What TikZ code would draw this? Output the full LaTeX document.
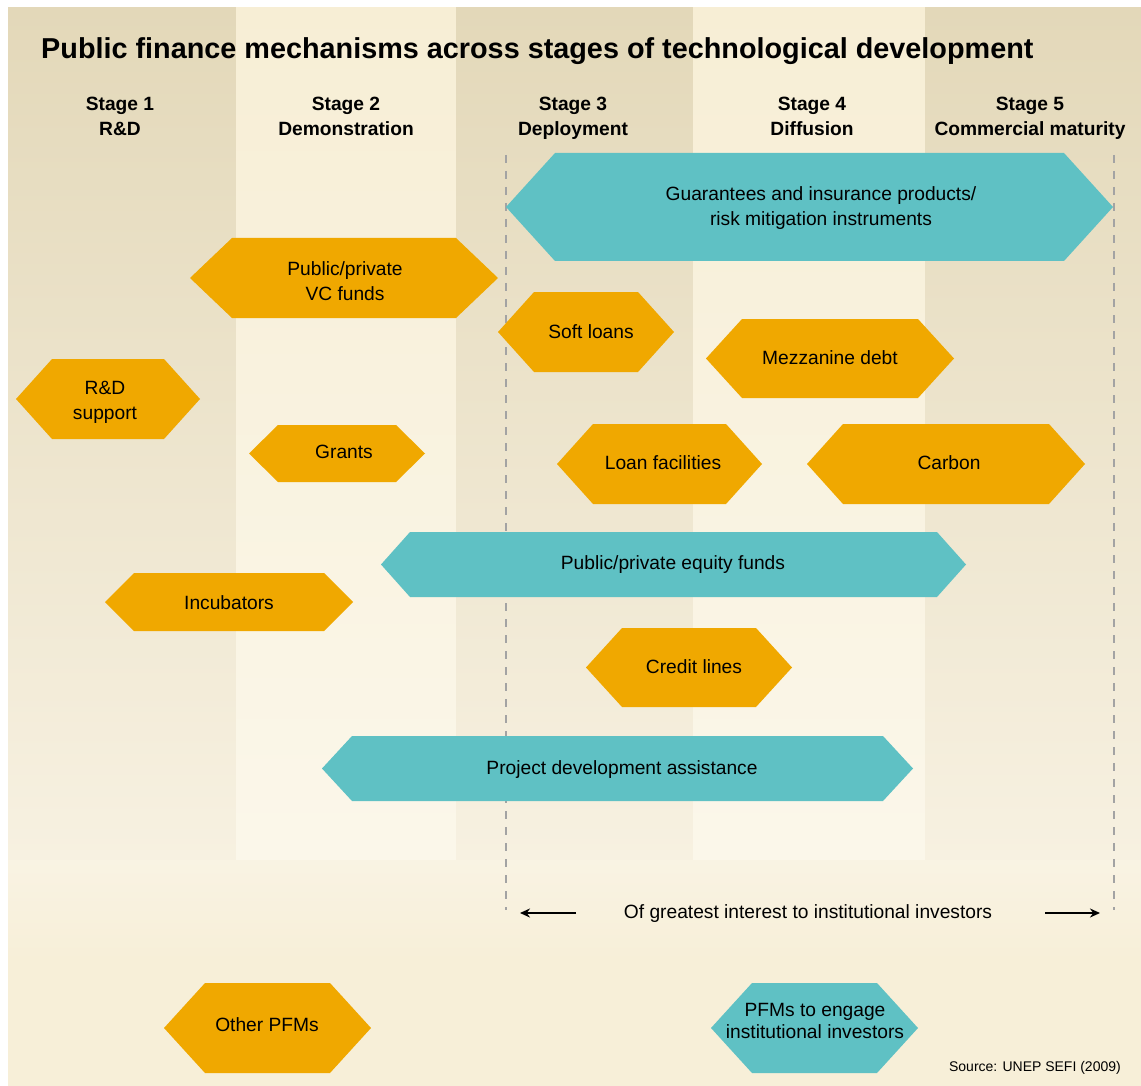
\documentclass[tikz,border=0pt]{standalone}
\usepackage{fontspec}
\setmainfont{Liberation Sans}
\usetikzlibrary{arrows.meta}
\definecolor{orng}{HTML}{F0A800}
\definecolor{teal}{HTML}{5FC1C4}
\definecolor{darktop}{HTML}{E3D8B9}
\definecolor{darkbot}{HTML}{F7F1E1}
\definecolor{lighttop}{HTML}{F7EED5}
\definecolor{lightbot}{HTML}{FBF7EA}
\definecolor{basecream}{HTML}{F7EFD8}
\definecolor{basetop}{HTML}{F9F3E3}
\definecolor{dashgray}{HTML}{A3A3A3}
\newcommand{\hexa}[9]{%
  \fill[#2] (#3,{(#6+#7)/2}) -- ({#3+#4},#6) -- ({#5-#4},#6) -- (#5,{(#6+#7)/2}) -- ({#5-#4},#7) -- ({#3+#4},#7) -- cycle;
  \node[lbl] (#1) at (#8) {#9};
}
\begin{document}
\begin{tikzpicture}[x=1pt,y=-1pt,
  lbl/.style={align=center,font=\fontsize{19.2}{25}\selectfont,inner sep=0pt},
  stagelbl/.style={align=center,anchor=base,font=\fontsize{19.2}{25}\selectfont\bfseries,inner sep=0pt},
  guide/.style={dashgray,line width=2pt,dash pattern=on 8pt off 8pt},
  arr/.style={line width=2pt,-{Stealth[length=10pt,width=9pt]}}]
\useasboundingbox (0,0) rectangle (1141,1086);
\fill[white] (0,0) rectangle (1141,1086);
\fill[basecream] (8,8) rectangle (1141,1086);
% columns
\shade[top color=darktop,bottom color=darkbot] (8,8) rectangle (236,860);
\shade[top color=lighttop,bottom color=lightbot] (236,8) rectangle (456,860);
\shade[top color=darktop,bottom color=darkbot] (456,8) rectangle (693,860);
\shade[top color=lighttop,bottom color=lightbot] (693,8) rectangle (925,860);
\shade[top color=darktop,bottom color=darkbot] (925,8) rectangle (1141,860);
\shade[top color=basetop,bottom color=basecream] (8,860) rectangle (1141,960);
% title
\node[anchor=west,inner sep=0pt,font=\fontsize{28.8}{32}\selectfont\bfseries] (title) at (41,51) {Public finance mechanisms across stages of technological development};
% stages
\node[stagelbl] (s1) at (120,136) {Stage 1\\R\&D};
\node[stagelbl] (s2) at (346,136) {Stage 2\\Demonstration};
\node[stagelbl] (s3) at (573,136) {Stage 3\\Deployment};
\node[stagelbl] (s4) at (812,136) {Stage 4\\Diffusion};
\node[stagelbl] (s5) at (1030,136) {Stage 5\\Commercial maturity};
% dashed guides
\coordinate (gl1) at (506,155);
\coordinate (gl2) at (506,910);
\coordinate (gr1) at (1114,155);
\coordinate (gr2) at (1114,910);
\draw[guide] (gl1) -- (gl2);
\draw[guide] (gr1) -- (gr2);
% hexagons
\hexa{guar}{teal}{506}{49}{1113}{153}{261}{821,208}{Guarantees and insurance products/\\risk mitigation instruments}
\hexa{vc}{orng}{190}{42}{498}{238}{318}{345,281}{Public/private\\VC funds}
\hexa{soft}{orng}{498}{36}{674}{292}{372}{591,332}{Soft loans}
\hexa{mezz}{orng}{706}{36}{954}{319}{398}{830,358}{Mezzanine debt}
\hexa{rd}{orng}{16}{36}{200}{359}{439}{105,402}{R\&D\\support}
\hexa{grants}{orng}{249}{29}{425}{425}{482}{344,452}{Grants}
\hexa{loanf}{orng}{557}{36}{762}{424}{504}{663,463}{Loan facilities}
\hexa{carbon}{orng}{807}{36}{1085}{424}{504}{949,463}{Carbon}
\hexa{equity}{teal}{381}{29}{966}{532}{597}{673,565}{Public/private equity funds}
\hexa{incub}{orng}{105}{29}{353}{573}{631}{229,603}{Incubators}
\hexa{credit}{orng}{586}{36}{792}{628}{707}{694,667}{Credit lines}
\hexa{projdev}{teal}{322}{30}{913}{736}{801}{622,770}{Project development assistance}
\hexa{other}{orng}{164}{41}{371}{983}{1073}{267,1025}{Other PFMs}
\hexa{engage}{teal}{711}{41}{918}{983}{1073}{815,1021}{PFMs to engage\\[-3pt]institutional investors}
% interest arrows
\node[lbl] (interest) at (808,914) {Of greatest interest to institutional investors};
\coordinate (al1) at (576,913);
\coordinate (al2) at (520,913);
\coordinate (ar1) at (1045,913);
\coordinate (ar2) at (1100,913);
\draw[arr] (al1) -- (al2);
\draw[arr] (ar1) -- (ar2);
% source
\node[anchor=east,inner sep=0pt,font=\fontsize{14}{16}\selectfont] (src) at (1121,1068) {Source: UNEP SEFI (2009)};
\end{tikzpicture}
\end{document}
